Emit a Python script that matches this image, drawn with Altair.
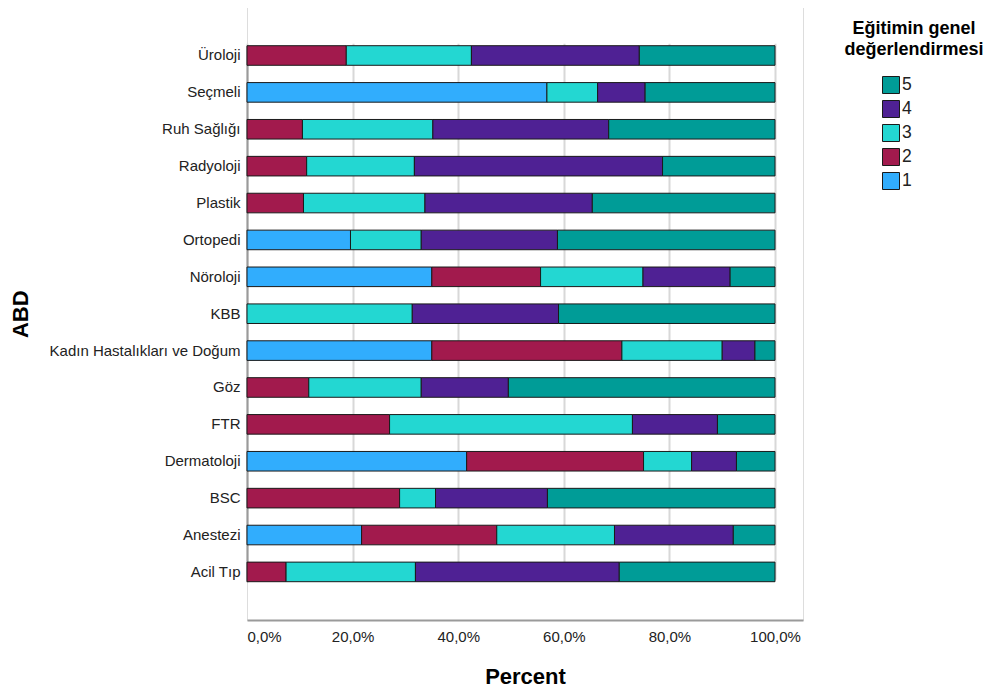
import altair as alt
import pandas as pd

departments = ["Üroloji", "Seçmeli", "Ruh Sağlığı", "Radyoloji", "Plastik", "Ortopedi",
               "Nöroloji", "KBB", "Kadın Hastalıkları ve Doğum", "Göz", "FTR",
               "Dermatoloji", "BSC", "Anestezi", "Acil Tıp"]
score1 = [0, 56.8, 0, 0, 0, 19.6, 35.0, 0, 35.0, 0, 0, 41.6, 0, 21.7, 0]
score2 = [18.8, 0, 10.5, 11.3, 10.7, 0, 20.6, 0, 36.0, 11.7, 27.0, 33.5, 28.9, 25.6, 7.4]
score3 = [23.7, 9.6, 24.7, 20.4, 23.0, 13.4, 19.4, 31.3, 19.0, 21.3, 46.0, 9.1, 6.8, 22.3, 24.5]
score4 = [31.8, 9.0, 33.3, 47.0, 31.7, 25.8, 16.5, 27.7, 6.2, 16.5, 16.1, 8.5, 21.2, 22.5, 38.6]
score5 = [25.7, 24.6, 31.5, 21.3, 34.6, 41.2, 8.5, 41.0, 3.8, 50.5, 10.9, 7.3, 43.1, 7.9, 29.5]

categories = ["1", "2", "3", "4", "5"]
colors = ["#31adfd", "#a21a4d", "#23d7d2", "#4f2194", "#009c97"]
x_ticks = [0, 20, 40, 60, 80, 100]
legend_title = ["Eğitimin genel", "değerlendirmesi"]

rows = []
for cat, series in zip(categories, [score1, score2, score3, score4, score5]):
    for dep, v in zip(departments, series):
        if v > 0:
            rows.append({"ABD": dep, "score": cat, "order": int(cat), "pct": v})
df = pd.DataFrame(rows)

FONT = "Liberation Sans"

bars = alt.Chart(df).mark_bar(stroke="#1a1a1a", strokeWidth=1).encode(
    y=alt.Y("ABD:N", sort=departments,
            scale=alt.Scale(range=[40.7, 576.7], paddingInner=0.469, paddingOuter=0),
            axis=alt.Axis(title="ABD", titleFontSize=22, titleFont=FONT, titleFontWeight="bold",
                          titleColor="#000", titleX=-227, titleBaseline="middle", titleAngle=-90,
                          labelFont=FONT, labelFontSize=15, labelColor="#222", labelLimit=400,
                          ticks=False, labelPadding=7, domainColor="#9a9a9a", domainWidth=2,
                          grid=False)),
    x=alt.X("pct:Q", stack="zero",
            scale=alt.Scale(domain=[0, 105.3], nice=False),
            axis=alt.Axis(title="Percent", titleFontSize=22, titleFont=FONT, titleFontWeight="bold",
                          titleColor="#000", titleY=63, titleBaseline="alphabetic",
                          values=x_ticks, labelFont=FONT, labelFontSize=15, labelColor="#222",
                          labelExpr="replace(format(datum.value, '.1f'), '.', ',') + '%'",
                          ticks=False, labelPadding=9, domainColor="#9a9a9a", domainWidth=2,
                          grid=True, gridColor="#d8d8d8", gridWidth=2)),
    color=alt.Color("score:N",
                    scale=alt.Scale(domain=categories[::-1], range=colors[::-1]),
                    legend=alt.Legend(title=None, orient="none", legendX=635, legendY=71,
                                      symbolType="square", symbolSize=289, symbolStrokeColor="#1a1a1a",
                                      symbolStrokeWidth=1, symbolOpacity=1,
                                      labelFont=FONT, labelFontSize=17.5, labelColor="#222",
                                      labelOffset=2, rowPadding=2, padding=0)),
    order=alt.Order("order:Q", sort="ascending"),
)

title_layer = alt.Chart(pd.DataFrame({"t": [0]})).mark_text(
    text=legend_title, font=FONT, fontSize=18, fontWeight="bold", color="#000",
    align="center", baseline="middle", lineHeight=21
).encode(x=alt.value(667), y=alt.value(24))

chart = alt.layer(bars, title_layer).properties(
    width=556, height=615,
    autosize=alt.AutoSizeParams(type="none"),
    padding={"left": 239, "top": -3, "right": 181, "bottom": 67},
).configure_view(stroke=None).configure(background="white")

chart.save("out.html", embed_options={"renderer": "svg", "actions": False})
